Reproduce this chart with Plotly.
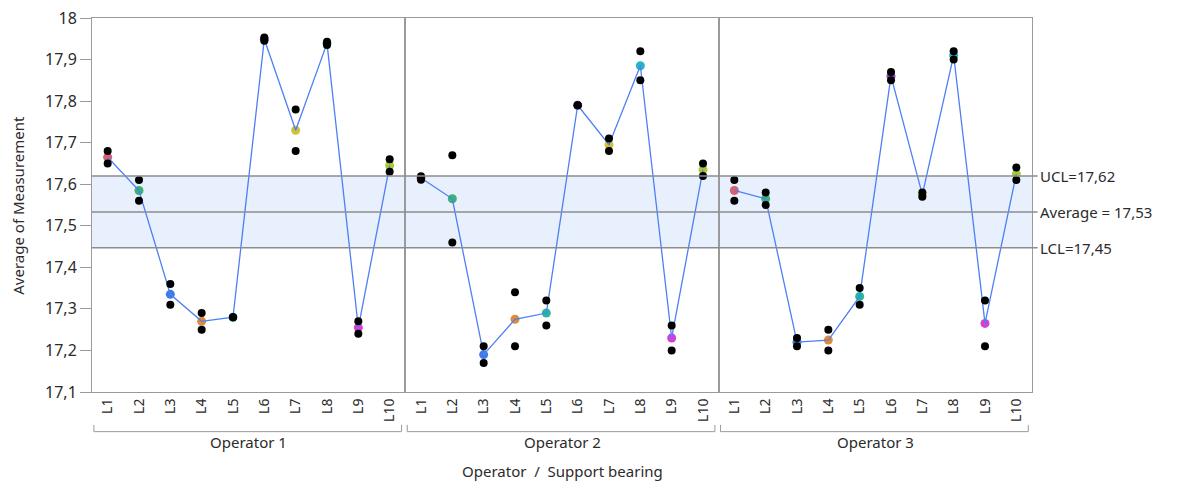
import plotly.graph_objects as go
from plotly.subplots import make_subplots

bearings = ["L1", "L2", "L3", "L4", "L5", "L6", "L7", "L8", "L9", "L10"]
operators = ["Operator 1", "Operator 2", "Operator 3"]

# two measurements per operator / bearing
meas_a = [
    [17.68, 17.61, 17.36, 17.29, 17.28, 17.953, 17.78, 17.943, 17.27, 17.66],
    [17.619, 17.67, 17.21, 17.34, 17.32, 17.79, 17.71, 17.92, 17.26, 17.65],
    [17.61, 17.58, 17.23, 17.25, 17.35, 17.87, 17.58, 17.92, 17.32, 17.64],
]
meas_b = [
    [17.65, 17.56, 17.31, 17.25, 17.28, 17.945, 17.68, 17.935, 17.24, 17.63],
    [17.611, 17.46, 17.17, 17.21, 17.26, 17.79, 17.68, 17.85, 17.20, 17.62],
    [17.56, 17.55, 17.21, 17.20, 17.31, 17.85, 17.57, 17.90, 17.21, 17.61],
]

UCL = 17.62
AVG = 17.533
LCL = 17.447
limit_labels = ["UCL=17,62", "Average = 17,53", "LCL=17,45"]

mean_colors = ["#d9606e", "#3cb371", "#3d7ae8", "#e08a3c", "#25b89a",
               "#9b3fc9", "#cfc23a", "#28b4c8", "#d43fd4", "#a8c83a"]

FONT = "Noto Sans"
TXT = "#2b2b2b"

fig = make_subplots(rows=1, cols=3, shared_yaxes=True, horizontal_spacing=0)

for i in range(3):
    means = [(a + b) / 2 for a, b in zip(meas_a[i], meas_b[i])]
    col = i + 1
    fig.add_trace(go.Scatter(x=bearings, y=means, mode="markers",
                             marker=dict(size=9, color=mean_colors),
                             showlegend=False, hoverinfo="skip"), row=1, col=col)
    fig.add_trace(go.Scatter(x=bearings, y=means, mode="lines",
                             line=dict(color="#4d7ff5", width=1.3),
                             showlegend=False), row=1, col=col)
    fig.add_trace(go.Scatter(x=bearings + bearings, y=meas_a[i] + meas_b[i],
                             mode="markers",
                             marker=dict(size=8, color="black"),
                             showlegend=False), row=1, col=col)
    fig.update_xaxes(row=1, col=col, type="category", range=[-0.5, 9.5],
                     tickangle=-90, showline=True, mirror=True,
                     linecolor="#9a9a9a", linewidth=1, showgrid=False,
                     ticks="", tickfont=dict(family=FONT, size=14, color=TXT),
                     zeroline=False, automargin=False)

fig.update_yaxes(range=[17.1, 18], dtick=0.1, showline=True, mirror=True,
                 linecolor="#9a9a9a", linewidth=1, showgrid=False, zeroline=False,
                 ticks="", tickfont=dict(family=FONT, size=16, color=TXT),
                 automargin=False, ticklabeloverflow="allow")
fig.update_yaxes(row=1, col=1, ticks="outside", ticklen=11, tickcolor="#9a9a9a")

shapes = []
# control band
shapes.append(dict(type="rect", xref="paper", yref="y", x0=0, x1=1, y0=LCL, y1=UCL,
                   fillcolor="#e8effd", line=dict(width=0), layer="below"))
for v in [UCL, AVG, LCL]:
    shapes.append(dict(type="line", xref="paper", yref="y", x0=0, x1=1.006, y0=v, y1=v,
                       line=dict(color="#8c8c8c", width=1.5), layer="above"))

annotations = []
for v, t in zip([UCL, AVG, LCL], limit_labels):
    annotations.append(dict(xref="paper", yref="y", x=1.006, y=v, text=t,
                            showarrow=False, xanchor="left", yanchor="middle",
                            font=dict(family=FONT, size=15, color=TXT)))

# y axis title
annotations.append(dict(xref="paper", yref="paper", x=-0.079, y=0.5,
                        text="Average of Measurement", textangle=-90, showarrow=False,
                        xanchor="center", yanchor="middle",
                        font=dict(family=FONT, size=15, color=TXT)))

# group brackets
yb = -0.106
yt = -0.088
for i, op in enumerate(operators):
    x0 = i / 3 + 0.002
    x1 = (i + 1) / 3 - 0.004
    shapes.append(dict(type="path", xref="paper", yref="paper",
                       path=f"M {x0},{yt} L {x0},{yb} L {x1},{yb} L {x1},{yt}",
                       line=dict(color="#9a9a9a", width=1)))
    annotations.append(dict(xref="paper", yref="paper", x=(i + 0.5) / 3, y=-0.135,
                            text=op, showarrow=False, xanchor="center", yanchor="middle",
                            font=dict(family=FONT, size=15, color=TXT)))

annotations.append(dict(xref="paper", yref="paper", x=0.5, y=-0.212,
                        text="Operator  /  Support bearing", showarrow=False,
                        xanchor="center", yanchor="middle",
                        font=dict(family=FONT, size=15, color=TXT)))

# page has an 8px body margin; compensate so the plot lands where the reference has it
fig.update_layout(width=1170, height=478, plot_bgcolor="white", paper_bgcolor="white",
                  margin=dict(l=84, r=146, t=10, b=94), separators=", ",
                  shapes=shapes, annotations=annotations, showlegend=False)

fig.write_html("out.html")
